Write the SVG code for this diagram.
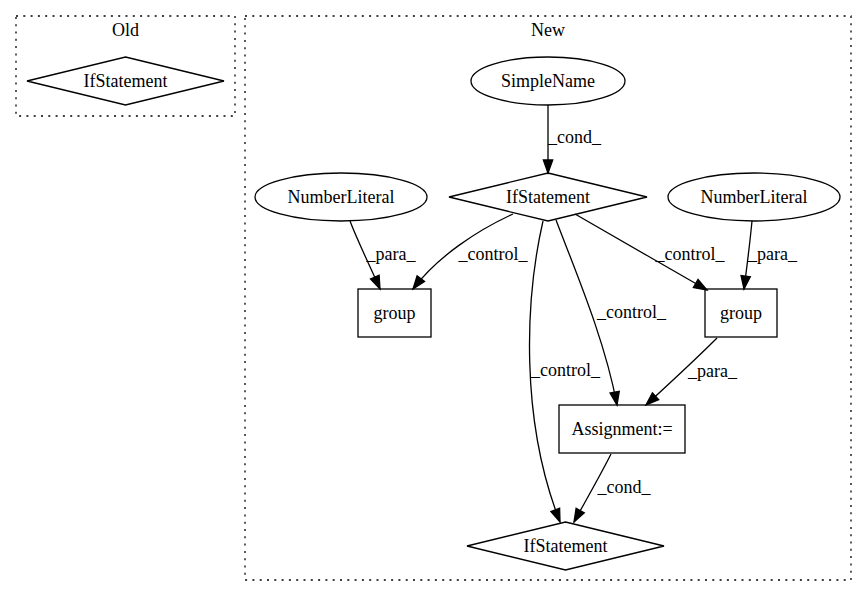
<svg xmlns="http://www.w3.org/2000/svg" width="867" height="596" viewBox="0 0 867 596">
<style>
text{font-family:"Liberation Serif","Times New Roman",serif;font-size:18px;fill:#000;text-anchor:middle}
.cl{fill:none;stroke:#000;stroke-width:1.3;stroke-dasharray:2,5.3}
.n{fill:none;stroke:#000;stroke-width:1.3}
.e{fill:none;stroke:#000;stroke-width:1.3;marker-end:url(#ah)}
</style>
<defs>
<marker id="ah" markerUnits="userSpaceOnUse" markerWidth="14" markerHeight="12" refX="13" refY="0" viewBox="0 -6 14 12" orient="auto" overflow="visible">
<path d="M0,-4.7 L13,0 L0,4.7 z" fill="#000" stroke="#000" stroke-width="1.3"/>
</marker>
</defs>
<rect width="867" height="596" fill="#fff"/>
<g id="cluster_old">
<rect class="cl" x="16" y="16" width="219" height="100"/>
<text x="125.5" y="36">Old</text>
</g>
<g id="cluster_new">
<rect class="cl" x="245" y="16" width="606" height="564"/>
<text x="548" y="36">New</text>
</g>
<g id="old_ifstatement">
<polygon class="n" points="125.5,57 224,81 125.5,105 27,81"/>
<text x="125.5" y="87">IfStatement</text>
</g>
<g id="simplename">
<ellipse class="n" cx="548" cy="81" rx="77" ry="24"/>
<text x="548" y="87">SimpleName</text>
</g>
<g id="ifstatement_top">
<polygon class="n" points="548,173 647,197 548,221 449,197"/>
<text x="548" y="203">IfStatement</text>
</g>
<g id="numberliteral_left">
<ellipse class="n" cx="341" cy="197" rx="86" ry="24"/>
<text x="341" y="203">NumberLiteral</text>
</g>
<g id="numberliteral_right">
<ellipse class="n" cx="754" cy="197" rx="86" ry="24"/>
<text x="754" y="203">NumberLiteral</text>
</g>
<g id="group_left">
<rect class="n" x="358" y="289" width="73" height="48"/>
<text x="394.5" y="319">group</text>
</g>
<g id="group_right">
<rect class="n" x="705" y="289" width="72" height="48"/>
<text x="741" y="319">group</text>
</g>
<g id="assignment">
<rect class="n" x="559" y="405" width="126" height="48"/>
<text x="622" y="435">Assignment:=</text>
</g>
<g id="ifstatement_bottom">
<polygon class="n" points="565.5,522 664,546 565.5,570 467,546"/>
<text x="565.5" y="552">IfStatement</text>
</g>
<g id="connectors">
<path class="e" d="M548,105 L548,173"/>
<text x="574.5" y="143">_cond_</text>
<path class="e" d="M350,221 C358,242 370,266 380,289"/>
<text x="391" y="260">_para_</text>
<path class="e" d="M513,214 C478,230 438,256 413,289"/>
<text x="493" y="260">_control_</text>
<path class="e" d="M575,214 C615,237 665,266 707,290"/>
<text x="690" y="260">_control_</text>
<path class="e" d="M752,221 C750,242 747,266 744,289"/>
<text x="772.5" y="260">_para_</text>
<path class="e" d="M556,220 C575,270 605,340 617,405"/>
<text x="631.5" y="318">_control_</text>
<path class="e" d="M543,221 C525,300 520,420 560,522"/>
<text x="565.5" y="376">_control_</text>
<path class="e" d="M717,338 C695,360 670,383 646,405"/>
<text x="712.5" y="377">_para_</text>
<path class="e" d="M611,454 C600,476 586,500 574,522"/>
<text x="624" y="493">_cond_</text>
</g>
</svg>
